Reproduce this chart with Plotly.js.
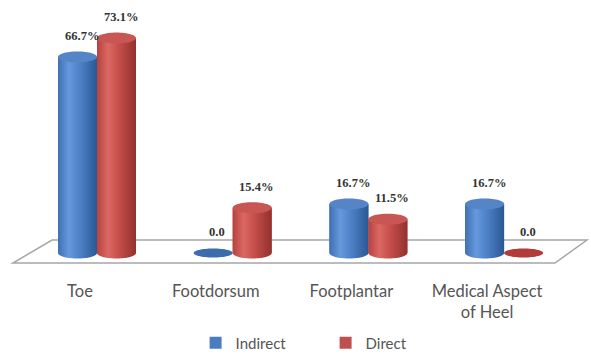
<!DOCTYPE html>
<html>
<head>
<meta charset="utf-8">
<script src="https://cdn.plot.ly/plotly-3.0.1.min.js"></script>
<style>
  html, body { margin: 0; padding: 0; background: #ffffff; }
  #chart { width: 591px; height: 360px; }
</style>
</head>
<body>
<div id="chart"></div>
<script>
// Injury site by mechanism (percent of cases)
const categories = ['Toe', 'Footdorsum', 'Footplantar', 'Medical Aspect<br>of Heel'];
const seriesNames = ['Indirect', 'Direct'];
const indirect = [66.7, 0.0, 16.7, 16.7];
const direct = [73.1, 15.4, 11.5, 0.0];

// Plot geometry (pixels per data unit along each axis)
const PX_PER_X = 135.7;
const PX_PER_Y = 2.94;
const BAR_W = 39 / PX_PER_X;          // cylinder width in x units
const GROUP_SHIFT = 17 / PX_PER_X;    // pair centre sits right of the category label
const TOP_B = 5.5 / PX_PER_Y;         // vertical half-axis of cylinder caps
const FLAT_B = 4.5 / PX_PER_Y;        // half-axis of a zero-height disc

const palette = {
  Indirect: {
    base: '#4a7dc0',
    cap: '#5585c6',
    disc: '#3d6cad',
    scale: [[0, '#3f70b4'], [0.28, '#6598dc'], [0.55, '#4e82c8'], [1, '#2b5894']]
  },
  Direct: {
    base: '#c0504d',
    cap: '#c85754',
    disc: '#b23c39',
    scale: [[0, '#b5423f'], [0.28, '#dc6864'], [0.55, '#c64f4b'], [1, '#92312e']]
  }
};

function arc(cx, cy, a, b, t0, t1, n) {
  const xs = [], ys = [];
  for (let k = 0; k <= n; k++) {
    const t = t0 + (t1 - t0) * k / n;
    xs.push(cx + a * Math.cos(t));
    ys.push(cy + b * Math.sin(t));
  }
  return { xs, ys };
}

const traces = [];
const shading = [];
const annotations = [];

[indirect, direct].forEach((values, s) => {
  const name = seriesNames[s];
  const col = palette[name];
  const offset = s === 0 ? GROUP_SHIFT - BAR_W : GROUP_SHIFT;
  const xs = categories.map((c, i) => i);

  // plain bars: the cylinder bodies and the legend swatches
  traces.push({
    type: 'bar',
    name: name,
    x: xs,
    y: values,
    width: BAR_W,
    offset: offset,
    marker: { color: col.base, line: { width: 0 } },
    hoverinfo: 'skip'
  });

  values.forEach((v, i) => {
    const x0 = i + offset;
    const x1 = x0 + BAR_W;
    const cx = (x0 + x1) / 2;
    const a = BAR_W / 2;
    if (v > 0) {
      // shaded body with the rounded lower rim
      const low = arc(cx, 0, a, TOP_B, Math.PI, 2 * Math.PI, 40);
      shading.push({
        type: 'scatter', mode: 'none', fill: 'toself', showlegend: false, hoverinfo: 'skip',
        x: [x0].concat(low.xs, [x1, x0]),
        y: [v].concat(low.ys, [v, v]),
        fillcolor: col.base,
        fillgradient: { type: 'horizontal', colorscale: col.scale }
      });
      // top cap
      const cap = arc(cx, v, a, TOP_B, 0, 2 * Math.PI, 60);
      shading.push({
        type: 'scatter', mode: 'none', fill: 'toself', showlegend: false, hoverinfo: 'skip',
        x: cap.xs, y: cap.ys, fillcolor: col.cap
      });
    } else {
      const disc = arc(cx, v, a, FLAT_B, 0, 2 * Math.PI, 60);
      shading.push({
        type: 'scatter', mode: 'none', fill: 'toself', showlegend: false, hoverinfo: 'skip',
        x: disc.xs, y: disc.ys, fillcolor: col.disc
      });
    }
    annotations.push({
      x: cx, y: v, xref: 'x', yref: 'y',
      text: v === 0 ? '0.0' : v.toFixed(1) + '%',
      showarrow: false, xshift: 4, yshift: 21,
      font: { family: 'Liberation Serif', size: 12.5, color: '#333333', weight: 'bold' }
    });
  });
});

// floor plane under the cylinders
const floorPath = 'M -0.206,4.4 L 3.736,4.4 L 3.5,-3.4 L -0.494,-3.4 Z';

const layout = {
  width: 591,
  height: 360,
  margin: { l: 10, r: 1, t: 10, b: 90 },
  paper_bgcolor: '#ffffff',
  plot_bgcolor: 'rgba(0,0,0,0)',
  barmode: 'overlay',
  showlegend: true,
  xaxis: {
    range: [-70 / PX_PER_X, 510 / PX_PER_X],
    tickvals: categories.map((c, i) => i),
    ticktext: categories,
    tickfont: { family: 'Lato', size: 16.5, color: '#555555' },
    ticklabelstandoff: 9,
    showgrid: false, zeroline: false, showline: false, ticks: '',
    fixedrange: true
  },
  yaxis: {
    range: [(253 - 270) / PX_PER_Y, (253 - 10) / PX_PER_Y],
    visible: false,
    showgrid: false, zeroline: false,
    fixedrange: true
  },
  shapes: [{
    type: 'path', xref: 'x', yref: 'y', layer: 'below',
    path: floorPath,
    fillcolor: '#ffffff',
    line: { color: '#a6a6a6', width: 1.5 }
  }],
  legend: {
    orientation: 'h',
    x: 0.32, xanchor: 'left',
    y: -0.344, yanchor: 'bottom',
    font: { family: 'Lato', size: 15, color: '#555555' },
    entrywidth: 85,
    itemwidth: 30,
    traceorder: 'normal'
  },
  annotations: annotations
};

Plotly.newPlot('chart', traces.concat(shading), layout, { displayModeBar: false, staticPlot: true });
</script>
</body>
</html>
